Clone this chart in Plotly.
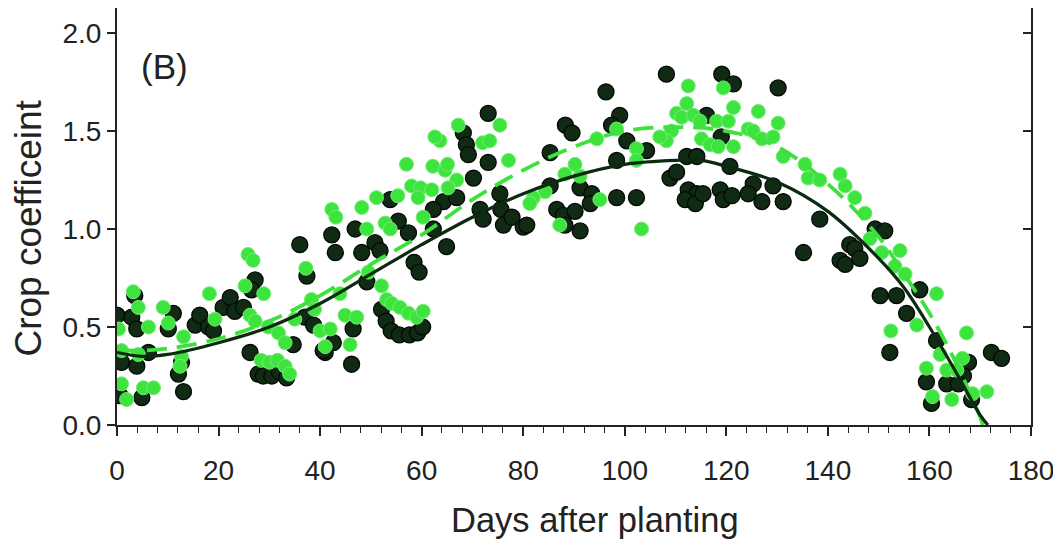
import plotly.graph_objects as go

# ---- data ----
dark_days = [0.0, 0.9, 0.6, 2.9, 3.9, 3.9, 3.5, 4.9, 6.2, 11.1, 10.1, 12.1, 13.1, 12.7, 15.4, 16.3, 18.0, 19.0,
             20.9, 22.3, 23.2, 24.9, 26.2, 27.2, 26.5, 27.8, 28.8, 30.5, 32.0, 33.4, 34.7, 36.0, 37.4, 37.0, 38.7,
             41.0, 42.3, 43.0,
             73.1, 68.2, 68.8, 69.2, 73.1, 70.2, 53.8, 64.3, 66.9, 62.3, 55.4, 57.4, 62.3, 71.5, 72.1, 75.4, 75.6,
             76.1, 77.8, 80.0, 46.9, 48.2, 50.8, 51.8, 49.2, 52.1, 53.0, 54.0, 55.6, 57.6, 59.2, 60.2, 46.5,
             42.6, 40.6, 46.2, 58.5, 59.5, 64.9,
             108.2, 119.1, 121.4, 96.3, 88.3, 89.6, 99.0, 97.4, 116.1, 85.3, 100.4, 98.4, 104.3, 112.2, 114.2,
             120.7, 108.9, 110.2, 112.5, 114.2, 111.9, 113.9, 118.8, 119.4, 121.1, 85.3, 91.2, 93.5, 93.2, 98.4,
             102.3, 86.6, 87.9, 90.2, 80.7, 88.2, 91.2, 119.0, 115.4,
             130.2, 125.3, 124.3, 127.0, 129.2, 131.2, 138.4, 135.2, 142.4, 143.4, 144.3, 145.3, 146.3, 149.3,
             151.2, 150.3, 153.5, 158.1, 155.5, 161.4, 152.2, 172.2, 174.2, 167.7, 166.7, 159.4, 163.4, 165.7,
             160.4, 168.3]
dark_kc = [0.56, 0.32, 0.15, 0.55, 0.49, 0.30, 0.66, 0.14, 0.37, 0.57, 0.49, 0.26, 0.17, 0.32, 0.51, 0.56, 0.50, 0.48,
           0.60, 0.65, 0.58, 0.60, 0.37, 0.74, 0.69, 0.26, 0.25, 0.25, 0.27, 0.24, 0.41, 0.92, 0.76, 0.55, 0.51,
           0.37, 0.97, 0.88,
           1.59, 1.49, 1.43, 1.38, 1.34, 1.26, 1.15, 1.14, 1.16, 1.10, 1.04, 0.98, 1.00, 1.10, 1.05, 1.18, 1.10,
           1.02, 1.06, 1.01, 1.00, 0.88, 0.93, 0.89, 0.73, 0.59, 0.53, 0.48, 0.46, 0.46, 0.47, 0.50, 0.49,
           0.42, 0.38, 0.31, 0.83, 0.78, 0.91,
           1.79, 1.79, 1.74, 1.70, 1.53, 1.49, 1.58, 1.53, 1.58, 1.39, 1.45, 1.35, 1.40, 1.37, 1.37,
           1.32, 1.26, 1.29, 1.20, 1.18, 1.15, 1.13, 1.20, 1.15, 1.17, 1.22, 1.21, 1.18, 1.13, 1.16,
           1.16, 1.10, 1.07, 1.09, 1.02, 1.02, 0.99, 1.47, 1.18,
           1.72, 1.23, 1.18, 1.14, 1.22, 1.14, 1.05, 0.88, 0.84, 0.82, 0.92, 0.90, 0.85, 1.00,
           0.99, 0.66, 0.66, 0.69, 0.57, 0.43, 0.37, 0.37, 0.34, 0.32, 0.25, 0.22, 0.21, 0.21,
           0.11, 0.13]

light_days = [0.3, 0.9, 0.9, 1.9, 3.2, 4.2, 4.2, 5.2, 7.2, 6.2, 9.1, 10.1, 13.1, 12.7, 12.4, 18.2, 19.3, 25.2,
              25.8, 26.8, 28.9, 26.2, 27.2, 28.4, 30.0, 31.6, 33.1, 34.0, 29.8, 31.8, 33.1, 35.0, 37.2, 38.3,
              38.9, 40.0, 41.0, 42.3, 43.1,
              67.2, 75.4, 63.6, 62.6, 72.0, 73.4, 77.1, 57.0, 62.2, 64.6, 65.1, 66.9, 65.2, 58.0, 59.8, 55.3,
              59.3, 62.0, 51.1, 48.2, 49.2, 52.8, 53.8, 60.3, 49.5, 43.9, 52.1, 53.1, 54.1, 55.7, 57.4, 59.0,
              60.3, 44.9, 47.2, 42.0, 45.9,
              112.5, 119.4, 112.2, 110.2, 111.2, 113.5, 121.4, 114.8, 118.1, 120.4, 115.1, 116.8, 118.4, 121.4,
              109.2, 108.2, 106.9, 102.3, 102.3, 98.4, 94.5, 90.2, 88.2, 91.2, 84.3, 82.0, 81.3, 95.1, 87.2,
              103.3,
              126.3, 130.2, 124.3, 125.3, 127.0, 129.2, 131.2, 135.5, 136.1, 138.4, 142.4, 143.4, 145.3, 147.3,
              148.3, 150.6, 154.2, 153.2, 155.2, 161.4, 157.5, 152.4, 167.3, 162.1, 166.5, 159.4, 163.4, 165.4,
              168.5, 171.3, 160.6, 164.4]
light_kc = [0.49, 0.38, 0.21, 0.13, 0.68, 0.60, 0.36, 0.19, 0.19, 0.50, 0.60, 0.52, 0.45, 0.35, 0.30, 0.67, 0.54, 0.71,
            0.87, 0.84, 0.67, 0.56, 0.53, 0.33, 0.32, 0.33, 0.30, 0.26, 0.50, 0.47, 0.42, 0.54, 0.80, 0.64,
            0.59, 0.48, 0.40, 1.10, 1.06,
            1.53, 1.53, 1.45, 1.47, 1.44, 1.45, 1.35, 1.33, 1.32, 1.30, 1.33, 1.25, 1.21, 1.22, 1.21, 1.17,
            1.16, 1.20, 1.16, 1.11, 1.00, 1.03, 1.00, 1.06, 0.78, 0.67, 0.71, 0.64, 0.62, 0.60, 0.57, 0.55,
            0.58, 0.56, 0.55, 0.49, 0.41,
            1.73, 1.72, 1.64, 1.59, 1.57, 1.58, 1.62, 1.55, 1.55, 1.55, 1.46, 1.43, 1.42, 1.42,
            1.50, 1.45, 1.47, 1.41, 1.35, 1.51, 1.46, 1.33, 1.28, 1.27, 1.19, 1.16, 1.13, 1.15, 1.02,
            1.00,
            1.60, 1.54, 1.51, 1.50, 1.46, 1.47, 1.37, 1.33, 1.26, 1.25, 1.28, 1.22, 1.16, 1.08,
            0.95, 0.88, 0.89, 0.81, 0.77, 0.67, 0.51, 0.48, 0.47, 0.36, 0.34, 0.29, 0.28, 0.28,
            0.16, 0.17, 0.145, 0.13]

# fitted curves
dark_fit_days = [0, 5, 10, 20, 30, 40, 50, 60, 70, 80, 90, 100, 110, 115, 120, 130, 140, 150, 155, 160, 165, 170, 171.5]
dark_fit_kc = [0.37, 0.35, 0.36, 0.42, 0.50, 0.62, 0.77, 0.92, 1.06, 1.18, 1.27, 1.33, 1.35, 1.35, 1.32, 1.24, 1.09,
               0.85, 0.70, 0.50, 0.28, 0.05, 0.0]
light_fit_days = [0, 5, 10, 20, 30, 40, 50, 60, 70, 80, 90, 100, 110, 120, 130, 140, 150, 155, 160, 165, 170, 170.5]
light_fit_kc = [0.38, 0.38, 0.39, 0.44, 0.53, 0.66, 0.82, 0.97, 1.15, 1.30, 1.42, 1.50, 1.52, 1.50, 1.42, 1.23, 0.96,
                0.77, 0.57, 0.33, 0.04, 0.0]

y_ticks = [0.0, 0.5, 1.0, 1.5, 2.0]
y_tick_text = ["0.0", "0.5", "1.0", "1.5", "2.0"]

DARK = "#102a14"
LIGHT = "#3ee43e"
FONT = "Liberation Sans, Arial, Helvetica, sans-serif"
AXC = "#222222"
Y_MAX = 2.1276

fig = go.Figure()
fig.add_trace(go.Scatter(x=dark_days, y=dark_kc, mode="markers",
                         marker=dict(size=16, color=DARK, line=dict(color="#030a04", width=1.3)),
                         showlegend=False, hoverinfo="skip"))
fig.add_trace(go.Scatter(x=light_days, y=light_kc, mode="markers",
                         marker=dict(size=14, color=LIGHT, line=dict(color="#74ec74", width=1)),
                         showlegend=False, hoverinfo="skip"))
fig.add_trace(go.Scatter(x=light_fit_days, y=light_fit_kc, mode="lines", line_shape="spline",
                         line=dict(color="#3ee03e", width=3.8, dash="20px,10px"),
                         showlegend=False, hoverinfo="skip"))
fig.add_trace(go.Scatter(x=dark_fit_days, y=dark_fit_kc, mode="lines", line_shape="spline",
                         line=dict(color="#0b2a10", width=3.2),
                         showlegend=False, hoverinfo="skip"))

# the page body adds an 8px margin, so the figure is 8px smaller than the window
fig.update_layout(
    width=1053, height=535,
    margin=dict(l=109, r=30, t=0, b=118),
    paper_bgcolor="white", plot_bgcolor="white",
    font=dict(family=FONT, color=AXC),
    xaxis=dict(range=[0, 180], tick0=0, dtick=20, ticks="outside", ticklen=9, tickwidth=1.5, tickcolor=AXC,
               showline=True, linecolor=AXC, linewidth=2, showgrid=False, zeroline=False,
               tickfont=dict(size=28, family=FONT, color=AXC), ticklabelstandoff=10,
               minor=dict(dtick=4, tick0=0, ticks="outside", ticklen=6, tickwidth=1.2, tickcolor=AXC,
                          showgrid=False)),
    yaxis=dict(range=[0, Y_MAX], tickvals=y_ticks, ticktext=y_tick_text, ticks="outside", ticklen=8,
               tickwidth=1.5, tickcolor=AXC, showline=True, linecolor=AXC, linewidth=2,
               showgrid=False, zeroline=False, tickfont=dict(size=28, family=FONT, color=AXC)),
    yaxis2=dict(range=[0, Y_MAX], overlaying="y", side="right", tickvals=y_ticks, ticks="inside",
                ticklen=8, tickwidth=1.5, tickcolor=AXC, showline=True, linecolor=AXC, linewidth=2,
                showgrid=False, zeroline=False, showticklabels=False),
    annotations=[
        dict(text="Days after planting", xref="paper", yref="paper", x=0.523, y=-0.228,
             showarrow=False, font=dict(size=34.5, family=FONT, color=AXC), xanchor="center", yanchor="middle"),
        dict(text="Crop coefficeint", xref="paper", yref="paper", x=-0.097, y=0.472, textangle=-90,
             showarrow=False, font=dict(size=37, family=FONT, color=AXC), xanchor="center", yanchor="middle"),
        dict(text="(B)", xref="x", yref="y", x=9.3, y=1.83, showarrow=False,
             font=dict(size=35, family=FONT, color=AXC), xanchor="center", yanchor="middle"),
    ],
)
fig.add_trace(go.Scatter(x=[None], y=[None], yaxis="y2", showlegend=False, hoverinfo="skip"))

fig.write_html("out.html")
